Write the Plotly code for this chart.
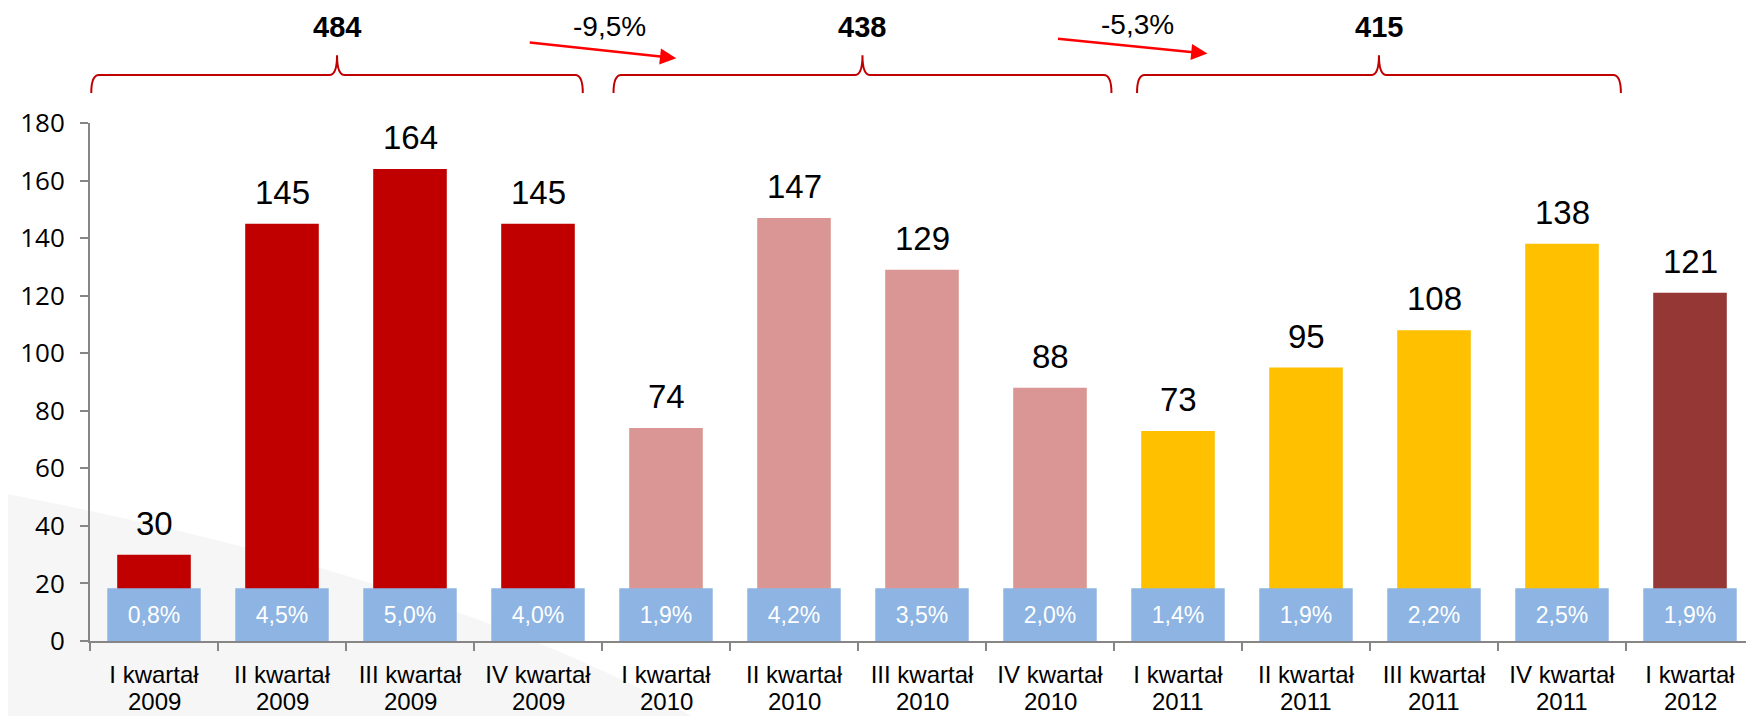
import plotly.graph_objects as go

# ---------------- data ----------------
quarters = ["I kwartał", "II kwartał", "III kwartał", "IV kwartał",
            "I kwartał", "II kwartał", "III kwartał", "IV kwartał",
            "I kwartał", "II kwartał", "III kwartał", "IV kwartał",
            "I kwartał"]
years = ["2009", "2009", "2009", "2009",
         "2010", "2010", "2010", "2010",
         "2011", "2011", "2011", "2011",
         "2012"]
values = [30, 145, 164, 145, 74, 147, 129, 88, 73, 95, 108, 138, 121]
shares = ["0,8%", "4,5%", "5,0%", "4,0%", "1,9%", "4,2%", "3,5%", "2,0%",
          "1,4%", "1,9%", "2,2%", "2,5%", "1,9%"]
group_totals = [484, 438, 415]
group_changes = ["-9,5%", "-5,3%"]
y_ticks = [0, 20, 40, 60, 80, 100, 120, 140, 160, 180]

# ---------------- style ----------------
year_colors = {"2009": "#C00000", "2010": "#D99694", "2011": "#FFC000", "2012": "#953735"}
BOX_COLOR = "#8DB4E2"
BOX_HEIGHT = 18.3
AXIS_COLOR = "#868686"
BRACE_COLOR = "#C00000"
ARROW_COLOR = "#FF0000"
FONT = "Liberation Sans, Arial, sans-serif"
XLABEL_SIZE = 24

# category keys (quarter + year); the quarter is shown as the tick label,
# the year as a second line below it
categories = [f"{q} {y}" for q, y in zip(quarters, years)]
bar_colors = [year_colors[y] for y in years]

fig = go.Figure()
fig.add_trace(go.Bar(
    x=categories, y=values, width=0.575,
    marker=dict(color=bar_colors, line=dict(width=0)),
    hoverinfo="x+y", showlegend=False,
))
fig.add_trace(go.Bar(
    x=categories, y=[BOX_HEIGHT] * len(categories), width=0.73,
    marker=dict(color=BOX_COLOR, line=dict(width=0)),
    text=shares, textposition="inside", insidetextanchor="middle",
    textangle=0, textfont=dict(family=FONT, size=23, color="white"),
    hoverinfo="text", showlegend=False,
))

annotations = []
for cat_i, v in enumerate(values):
    annotations.append(dict(
        x=cat_i, y=v, xref="x", yref="y", text=str(v), showarrow=False,
        yanchor="bottom", yshift=11,
        font=dict(family=FONT, size=33, color="black"),
    ))
# year line under the quarter tick labels
for cat_i, yr in enumerate(years):
    annotations.append(dict(
        x=cat_i, y=0, xref="x", yref="y", text=yr, showarrow=False,
        yanchor="middle", yshift=-60,
        font=dict(family=FONT, size=XLABEL_SIZE, color="black"),
    ))

shapes = []
# subtle background swoosh
shapes.append(dict(
    type="path", xref="paper", yref="paper", layer="below",
    path="M -0.06,0.29 Q 0.22,0.12 0.37,-0.16 L -0.06,-0.16 Z",
    fillcolor="#F6F6F6", line=dict(width=0),
))

# group braces
brace_spans = [(-0.49, 3.35), (3.59, 7.48), (7.68, 11.46)]
y_end, y_h, y_peak = 1.058, 1.0927, 1.131
d = 0.06
for g, (xl, xr) in enumerate(brace_spans):
    xc = (xl + xr) / 2
    path = (f"M {xl},{y_end} Q {xl},{y_h} {xl + d},{y_h} "
            f"L {xc - d},{y_h} Q {xc},{y_h} {xc},{y_peak} "
            f"Q {xc},{y_h} {xc + d},{y_h} "
            f"L {xr - d},{y_h} Q {xr},{y_h} {xr},{y_end}")
    shapes.append(dict(type="path", xref="x", yref="paper", path=path,
                       line=dict(color=BRACE_COLOR, width=2)))
    annotations.append(dict(
        x=xc, y=1.185, xref="x", yref="paper", text=f"<b>{group_totals[g]}</b>",
        showarrow=False, xanchor="center", yanchor="middle",
        font=dict(family=FONT, size=29, color="black"),
    ))

# change arrows between groups
arrow_heads = [(4.08, 1.125), (8.23, 1.134)]
arrow_tails_px = [(-148, -16), (-151, -15)]
label_pos = [(3.56, 1.186), (7.68, 1.19)]
for k, chg in enumerate(group_changes):
    hx, hy = arrow_heads[k]
    ax, ay = arrow_tails_px[k]
    annotations.append(dict(
        x=hx, y=hy, xref="x", yref="paper", text="", showarrow=True,
        ax=ax, ay=ay, axref="pixel", ayref="pixel",
        arrowhead=2, arrowsize=1.3, arrowwidth=2.5, arrowcolor=ARROW_COLOR,
        standoff=0,
    ))
    lx, ly = label_pos[k]
    annotations.append(dict(
        x=lx, y=ly, xref="x", yref="paper", text=chg, showarrow=False,
        xanchor="center", yanchor="middle",
        font=dict(family=FONT, size=28, color="black"),
    ))

# page body adds an 8 px offset, so the figure is 8 px smaller
fig.update_layout(
    width=1746, height=708,
    margin=dict(l=82, r=0, t=115, b=75, autoexpand=False),
    barmode="overlay",
    paper_bgcolor="white", plot_bgcolor="rgba(0,0,0,0)",
    shapes=shapes, annotations=annotations,
    showlegend=False,
)
fig.update_xaxes(
    type="category", range=[-0.5, 12.5], tickangle=0, automargin=False,
    tickmode="array", tickvals=categories, ticktext=quarters,
    showline=True, linecolor=AXIS_COLOR, linewidth=2,
    ticks="outside", tickson="boundaries", ticklen=8, tickcolor=AXIS_COLOR, tickwidth=2,
    tickfont=dict(family=FONT, size=XLABEL_SIZE, color="black"),
    ticklabelstandoff=11,
    showgrid=False, zeroline=False,
)
fig.update_yaxes(
    range=[0, 180], tickvals=y_ticks, automargin=False,
    showline=True, linecolor=AXIS_COLOR, linewidth=2,
    ticks="outside", ticklen=8, tickcolor=AXIS_COLOR, tickwidth=2,
    tickfont=dict(family="Open Sans, sans-serif", size=26, color="black"),
    ticklabelstandoff=10,
    showgrid=False, zeroline=False,
)

fig.write_html("out.html")
